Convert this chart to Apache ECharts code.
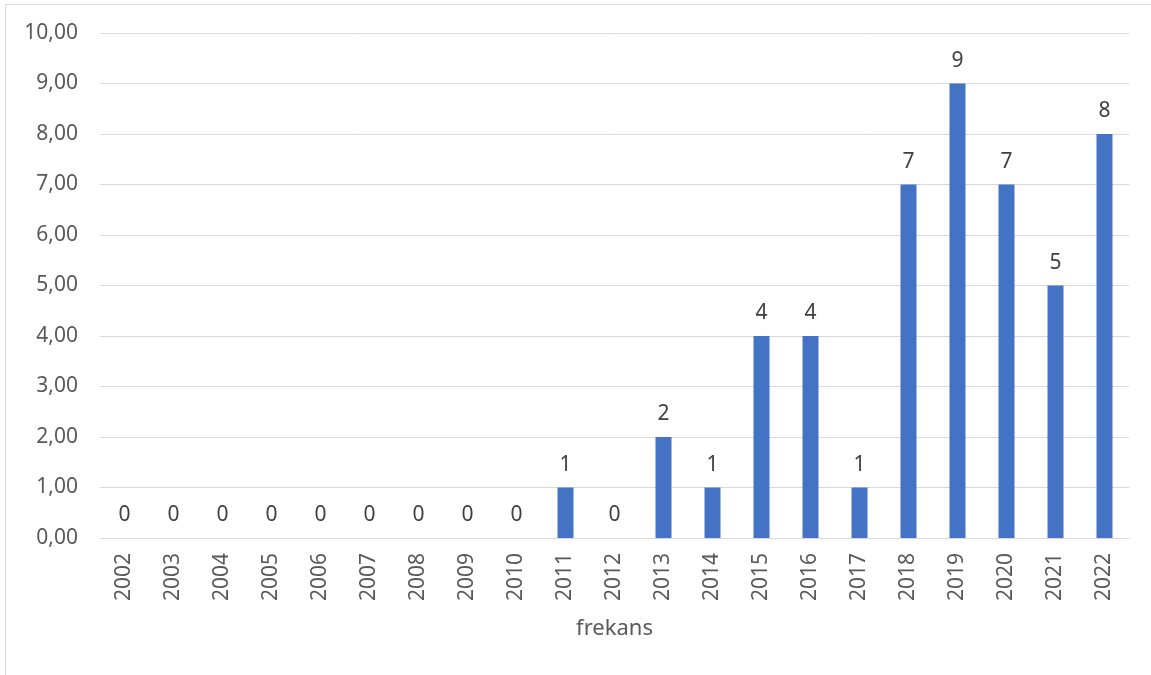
<!DOCTYPE html>
<html>
<head>
<meta charset="utf-8">
<script src="https://cdn.jsdelivr.net/npm/echarts@6/dist/echarts.min.js"></script>
<style>
  html, body { margin: 0; padding: 0; background: #fff; }
  #chart { width: 1151px; height: 675px; }
</style>
</head>
<body>
<div id="chart"></div>
<script>
// Yearly counts
const years = ['2002','2003','2004','2005','2006','2007','2008','2009','2010','2011','2012',
               '2013','2014','2015','2016','2017','2018','2019','2020','2021','2022'];
const counts = [0,0,0,0,0,0,0,0,0,1,0,2,1,4,4,1,7,9,7,5,8];
const axisTitle = 'frekans';

const textColor = '#595959';
const fontFamily = '"Noto Sans", "Open Sans", sans-serif';

const chart = echarts.init(document.getElementById('chart'), null, { renderer: 'canvas' });

chart.setOption({
  animation: false,
  backgroundColor: '#ffffff',
  graphic: [{
    type: 'rect',
    shape: { x: 5.5, y: 4.5, width: 1200, height: 720 },
    style: { fill: 'none', stroke: '#d9d9d9', lineWidth: 1 },
    silent: true
  }],
  grid: { left: 100, right: 22, top: 33, bottom: 137, containLabel: false },
  xAxis: {
    type: 'category',
    data: years,
    name: axisTitle,
    nameLocation: 'middle',
    nameGap: 80,
    nameTextStyle: { color: textColor, fontSize: 22, fontFamily },
    axisLine: { show: true, lineStyle: { color: '#d9d9d9', width: 1 } },
    axisTick: { show: false },
    axisLabel: {
      rotate: 90,
      color: textColor,
      fontSize: 21,
      fontFamily,
      margin: 15,
      interval: 0
    }
  },
  yAxis: {
    type: 'value',
    min: 0,
    max: 10,
    interval: 1,
    axisLine: { show: false },
    axisTick: { show: false },
    splitLine: { lineStyle: { color: '#d9d9d9', width: 1 } },
    axisLabel: {
      color: textColor,
      fontSize: 21,
      fontFamily,
      margin: 22,
      formatter: v => v.toFixed(2).replace('.', ',')
    }
  },
  series: [{
    type: 'bar',
    data: counts,
    barWidth: 16,
    itemStyle: { color: '#4472c4' },
    label: {
      show: true,
      position: 'top',
      distance: 12,
      color: '#404040',
      fontSize: 21,
      fontFamily
    }
  }]
});
</script>
</body>
</html>
